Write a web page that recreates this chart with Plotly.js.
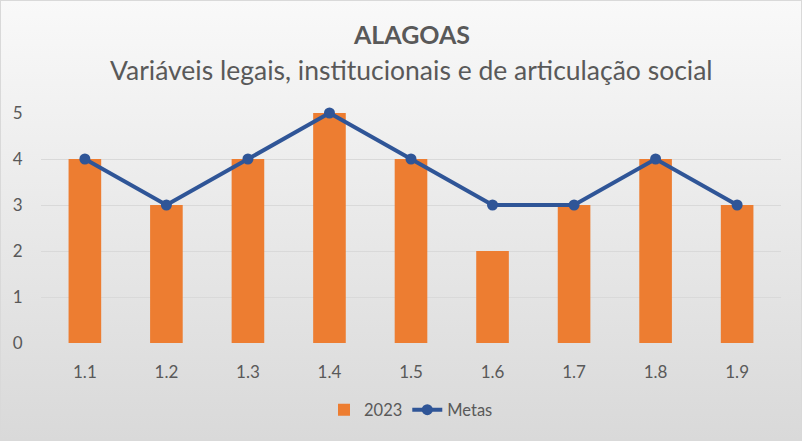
<!DOCTYPE html>
<html>
<head>
<meta charset="utf-8">
<script src="https://cdn.plot.ly/plotly-3.0.1.min.js"></script>
<style>
  html, body { margin: 0; padding: 0; }
  #chart {
    width: 800px; height: 439px;
    border: 1px solid #d9d9d9;
    background: linear-gradient(to bottom, #f9f9f9 0%, #d9d9d9 100%);
  }
</style>
</head>
<body>
<div id="chart"></div>
<script>
const categories = ["1.1", "1.2", "1.3", "1.4", "1.5", "1.6", "1.7", "1.8", "1.9"];
const values2023 = [4, 3, 4, 5, 4, 2, 3, 4, 3];
const metas = [4, 3, 4, 5, 4, 3, 3, 4, 3];
const yTicks = [0, 1, 2, 3, 4, 5];

const fontFam = "Lato, 'Noto Sans', sans-serif";
const traces = [
  {
    type: "bar", name: "2023", x: categories, y: values2023,
    marker: { color: "#ED7D31" }
  },
  {
    type: "scatter", mode: "lines+markers", name: "Metas", x: categories, y: metas,
    line: { color: "#2F5597", width: 4 },
    marker: { color: "#2F5597", size: 11 },
    cliponaxis: false
  }
];
const H = 230;
const layout = {
  width: 800, height: 439,
  paper_bgcolor: "rgba(0,0,0,0)",
  plot_bgcolor: "rgba(0,0,0,0)",
  margin: { l: 40, r: 20, t: 112, b: 97, pad: 0 },
  bargap: 0.6,
  font: { family: fontFam, color: "#595959", size: 16 },
  showlegend: true,
  legend: {
    orientation: "h", x: 0.5, xanchor: "center", y: -67 / H, yanchor: "middle",
    font: { size: 16.5, color: "#595959" }, traceorder: "normal",
    bgcolor: "rgba(0,0,0,0)"
  },
  xaxis: {
    type: "category", showgrid: false, zeroline: false, showline: false,
    ticks: "outside", ticklen: 14, tickcolor: "rgba(0,0,0,0)",
    tickfont: { size: 17, color: "#595959" }
  },
  yaxis: {
    range: [0, 5], tickvals: yTicks, showgrid: true, gridcolor: "#d9d9d9", gridwidth: 1,
    zeroline: false, showline: false,
    ticks: "outside", ticklen: 14, tickcolor: "rgba(0,0,0,0)",
    tickfont: { size: 17, color: "#595959" }
  },
  annotations: [
    { text: "<b>ALAGOAS</b>", xref: "paper", yref: "paper", x: 0.5, y: 1 + (112 - 33) / H,
      xanchor: "center", yanchor: "middle", showarrow: false,
      font: { size: 25, color: "#595959", family: fontFam } },
    { text: "Variáveis legais, institucionais e de articulação social", xref: "paper", yref: "paper",
      x: 0.5, y: 1 + (112 - 69) / H, xanchor: "center", yanchor: "middle", showarrow: false,
      font: { size: 26.5, color: "#595959", family: fontFam } }
  ]
};
Plotly.newPlot("chart", traces, layout, { displayModeBar: false });
</script>
</body>
</html>
